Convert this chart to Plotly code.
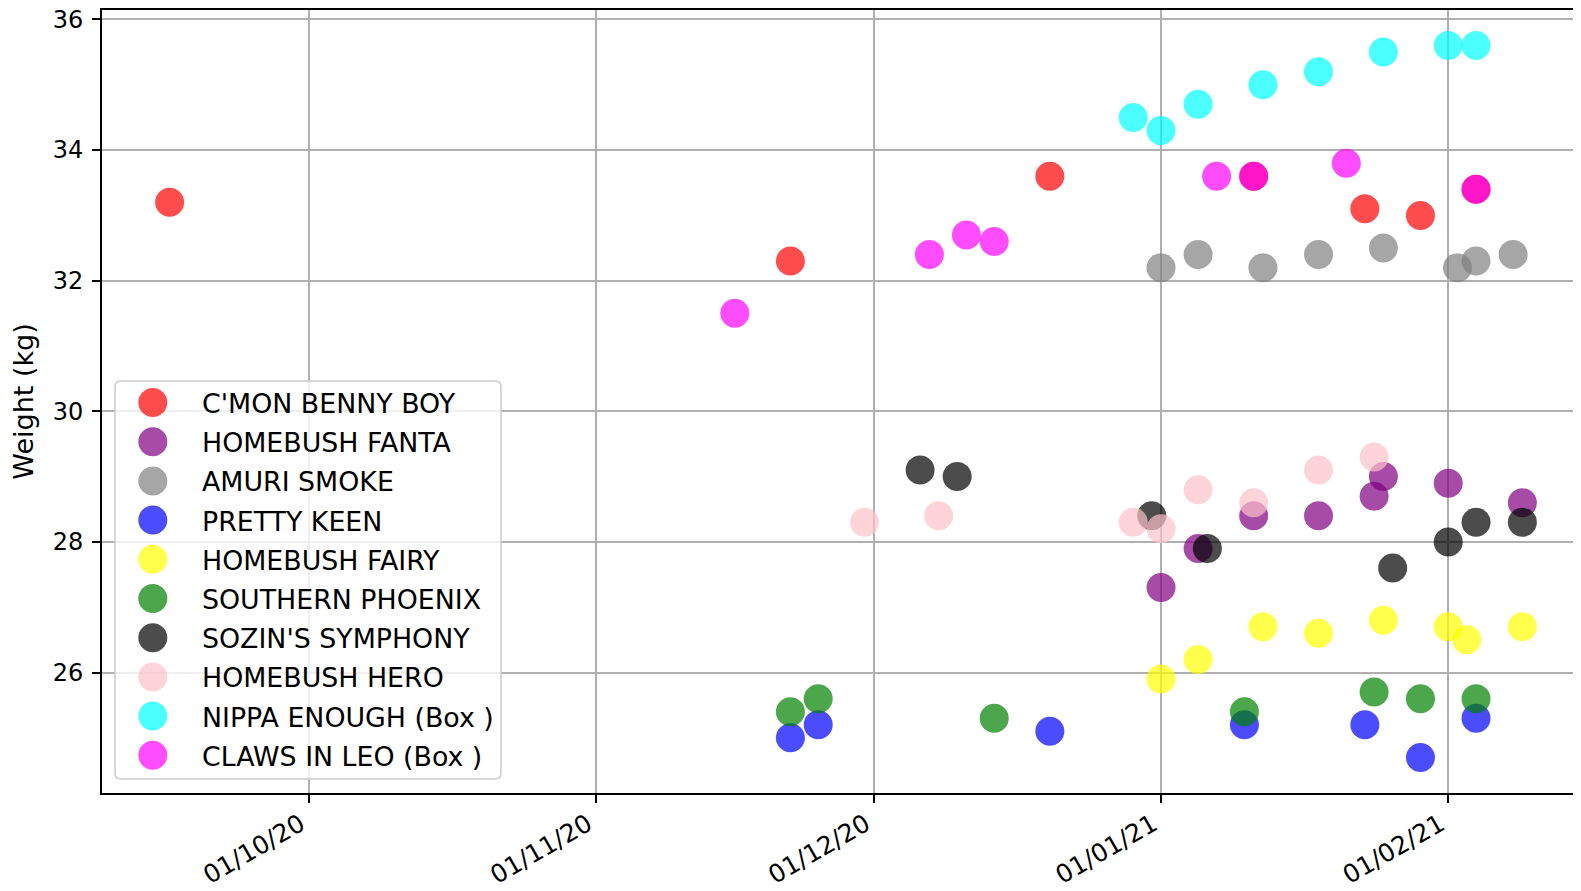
import pandas as pd
import plotly.graph_objects as go

# ---------------- data ----------------
names = ["C'MON BENNY BOY", "HOMEBUSH FANTA", "AMURI SMOKE", "PRETTY KEEN", "HOMEBUSH FAIRY",
         "SOUTHERN PHOENIX", "SOZIN'S SYMPHONY", "HOMEBUSH HERO", "NIPPA ENOUGH (Box )", "CLAWS IN LEO (Box )"]
colors = ["red", "purple", "grey", "blue", "yellow", "green", "black", "pink", "cyan", "magenta"]

benny_dates = ["2020-09-16", "2020-11-22", "2020-12-20", "2021-01-11", "2021-01-23", "2021-01-29", "2021-02-04"]
benny_kg = [33.2, 32.3, 33.6, 33.6, 33.1, 33.0, 33.4]

fanta_dates = ["2021-01-01", "2021-01-05", "2021-01-11", "2021-01-18", "2021-01-24", "2021-01-25", "2021-02-01", "2021-02-09"]
fanta_kg = [27.3, 27.9, 28.4, 28.4, 28.7, 29.0, 28.9, 28.6]

smoke_dates = ["2021-01-01", "2021-01-05", "2021-01-12", "2021-01-18", "2021-01-25", "2021-02-02", "2021-02-04", "2021-02-08"]
smoke_kg = [32.2, 32.4, 32.2, 32.4, 32.5, 32.2, 32.3, 32.4]

keen_dates = ["2020-11-22", "2020-11-25", "2020-12-20", "2021-01-10", "2021-01-23", "2021-01-29", "2021-02-04"]
keen_kg = [25.0, 25.2, 25.1, 25.2, 25.2, 24.7, 25.3]

fairy_dates = ["2021-01-01", "2021-01-05", "2021-01-12", "2021-01-18", "2021-01-25", "2021-02-01", "2021-02-03", "2021-02-09"]
fairy_kg = [25.9, 26.2, 26.7, 26.6, 26.8, 26.7, 26.5, 26.7]

phoenix_dates = ["2020-11-22", "2020-11-25", "2020-12-14", "2021-01-10", "2021-01-24", "2021-01-29", "2021-02-04"]
phoenix_kg = [25.4, 25.6, 25.3, 25.4, 25.7, 25.6, 25.6]

sozin_dates = ["2020-12-06", "2020-12-10", "2020-12-31", "2021-01-06", "2021-01-26", "2021-02-01", "2021-02-04", "2021-02-09"]
sozin_kg = [29.1, 29.0, 28.4, 27.9, 27.6, 28.0, 28.3, 28.3]

hero_dates = ["2020-11-30", "2020-12-08", "2020-12-29", "2021-01-01", "2021-01-05", "2021-01-11", "2021-01-18", "2021-01-24"]
hero_kg = [28.3, 28.4, 28.3, 28.2, 28.8, 28.6, 29.1, 29.3]

nippa_dates = ["2020-12-29", "2021-01-01", "2021-01-05", "2021-01-12", "2021-01-18", "2021-01-25", "2021-02-01", "2021-02-04"]
nippa_kg = [34.5, 34.3, 34.7, 35.0, 35.2, 35.5, 35.6, 35.6]

claws_dates = ["2020-11-16", "2020-12-07", "2020-12-11", "2020-12-14", "2021-01-07", "2021-01-11", "2021-01-21", "2021-02-04"]
claws_kg = [31.5, 32.4, 32.7, 32.6, 33.6, 33.6, 33.8, 33.4]

tick_dates = ["2020-10-01", "2020-11-01", "2020-12-01", "2021-01-01", "2021-02-01"]

series_dates = [benny_dates, fanta_dates, smoke_dates, keen_dates, fairy_dates,
                phoenix_dates, sozin_dates, hero_dates, nippa_dates, claws_dates]
series_kg = [benny_kg, fanta_kg, smoke_kg, keen_kg, fairy_kg,
             phoenix_kg, sozin_kg, hero_kg, nippa_kg, claws_kg]

# ---------------- geometry ----------------
# page has an 8px body margin, so the figure is sized to fit the 1581x891 window
OFF = 8
W, H = 1581 - OFF, 891 - OFF
PLOT_LEFT, PLOT_TOP, PLOT_BOTTOM, PLOT_RIGHT = 102, 10, 793, 1581   # page pixels
L, T, B, R = PLOT_LEFT - OFF, PLOT_TOP - OFF, 891 - PLOT_BOTTOM, 1581 - PLOT_RIGHT
PW, PH = PLOT_RIGHT - PLOT_LEFT, PLOT_BOTTOM - PLOT_TOP
FONT = "DejaVu Sans"

fig = go.Figure()
for nm, col, d, v in zip(names, colors, series_dates, series_kg):
    fig.add_trace(go.Scatter(
        x=pd.to_datetime(d), y=v, mode="markers", name=nm, showlegend=False,
        marker=dict(color=col, size=29, opacity=0.7, line=dict(width=0)),
    ))

# matplotlib-like auto limits (5% margins); the right side is cropped in the reference
all_d = pd.to_datetime([x for d in series_dates for x in d])
all_v = [x for v in series_kg for x in v]
dspan = all_d.max() - all_d.min()
x_lo = all_d.min() - 0.05 * dspan
x_hi_full = all_d.max() + 0.05 * dspan
x_hi = x_lo + (x_hi_full - x_lo) * (PW / 1488.0)
vspan = max(all_v) - min(all_v)
y_lo, y_hi = min(all_v) - 0.05 * vspan, max(all_v) + 0.05 * vspan

def px2paper(px, py):
    return (px - PLOT_LEFT) / PW, (PLOT_BOTTOM - py) / PH

shapes = []
annotations = []

# legend box (rounded)
bx0, by0, bx1, by1 = 115, 381, 501, 779
r = 6
def P(px, py):
    a, b = px2paper(px, py)
    return f"{a:.6f},{b:.6f}"
path = (f"M {P(bx0 + r, by0)} L {P(bx1 - r, by0)} Q {P(bx1, by0)} {P(bx1, by0 + r)} "
        f"L {P(bx1, by1 - r)} Q {P(bx1, by1)} {P(bx1 - r, by1)} "
        f"L {P(bx0 + r, by1)} Q {P(bx0, by1)} {P(bx0, by1 - r)} "
        f"L {P(bx0, by0 + r)} Q {P(bx0, by0)} {P(bx0 + r, by0)} Z")
shapes.append(dict(type="path", xref="paper", yref="paper", path=path,
                   fillcolor="rgba(255,255,255,0.8)", line=dict(color="#cccccc", width=1.5),
                   layer="above"))

row0, dy = 402.5, 39.2
for i, (nm, col) in enumerate(zip(names, colors)):
    cy = row0 + i * dy
    mx, my = px2paper(152.8, cy)
    shapes.append(dict(type="circle", xref="paper", yref="paper",
                       xsizemode="pixel", ysizemode="pixel", xanchor=mx, yanchor=my,
                       x0=-14.5, x1=14.5, y0=-14.5, y1=14.5,
                       fillcolor=col, opacity=0.7, line=dict(width=0), layer="above"))
    tx, ty = px2paper(200, cy + 1)
    annotations.append(dict(xref="paper", yref="paper", x=tx, y=ty, xanchor="left", yanchor="middle",
                            text=nm, showarrow=False, font=dict(family=FONT, size=26.8, color="black")))

fig.update_layout(
    width=W, height=H, margin=dict(l=L, r=R, t=T, b=B, autoexpand=False),
    paper_bgcolor="white", plot_bgcolor="white",
    font=dict(family=FONT, size=25, color="black"),
    showlegend=False, shapes=shapes, annotations=annotations,
    xaxis=dict(type="date", range=[x_lo, x_hi], tickvals=pd.to_datetime(tick_dates),
               tickformat="%d/%m/%y", tickangle=-30,
               ticklabelshift=-8, ticklabelstandoff=-3, ticklabeloverflow="allow",
               showgrid=True, gridcolor="#b0b0b0", gridwidth=1.8,
               showline=True, linecolor="black", linewidth=2, mirror=True,
               ticks="outside", ticklen=8, tickwidth=1.6, tickcolor="black",
               zeroline=False, tickfont=dict(size=25)),
    yaxis=dict(range=[y_lo, y_hi], dtick=2, tick0=26,
               showgrid=True, gridcolor="#b0b0b0", gridwidth=1.8,
               showline=True, linecolor="black", linewidth=2,
               ticks="outside", ticklen=8, tickwidth=1.6, tickcolor="black",
               ticklabelstandoff=4, ticklabeloverflow="allow",
               zeroline=False, tickfont=dict(size=24),
               title=dict(text="Weight (kg)", font=dict(size=27), standoff=15)),
)

fig.write_html("out.html")
